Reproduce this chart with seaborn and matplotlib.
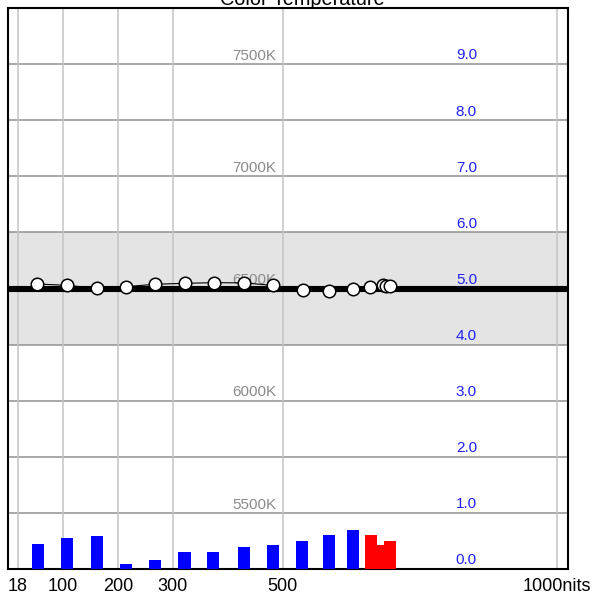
import matplotlib
matplotlib.use("Agg")
import matplotlib.pyplot as plt
import pandas as pd
import seaborn as sns

# Luminance steps (nits) and measured correlated colour temperature (K)
lum_nits = [53.5, 108, 161.5, 214.5, 268, 321.5, 374.5, 429, 482.5, 537,
            585, 628, 660, 683, 689, 696]
cct_k = [6520, 6514, 6501, 6508, 6519, 6523, 6526, 6525, 6514, 6492,
         6490, 6498, 6505, 6516, 6512, 6513]

# Colour error per step on the right-hand scale; the brightest steps in red
bar_nits = [54, 108, 162, 214.5, 268.5, 321.5, 374, 429.5, 482.5, 536,
            585, 629, 660.5, 682.5, 696]
bar_err = [0.45, 0.56, 0.59, 0.09, 0.16, 0.31, 0.31, 0.39, 0.42, 0.50,
           0.61, 0.70, 0.61, 0.43, 0.50]
bar_peak = [False] * 12 + [True] * 3

target_k = 6500
tolerance_k = 250

x_ticks = [18, 100, 200, 300, 500, 1000]
x_tick_labels = ["18", "100", "200", "300", "500", "1000nits"]
cct_labels = [5500, 6000, 6500, 7000, 7500]
err_labels = [0, 1, 2, 3, 4, 5, 6, 7, 8, 9]

sns.set_style("white")
plt.rcParams["font.family"] = ["Liberation Sans", "DejaVu Sans"]

fig = plt.figure(figsize=(5.95, 5.94), dpi=100)
ax = fig.add_axes([8 / 595, 25 / 594, 560 / 595, 561 / 594])
ax.set_xlim(0, 1020)
ax.set_ylim(5250, 7750)

# tolerance band and grid
ax.axhspan(target_k - tolerance_k, target_k + tolerance_k,
           color="#e4e4e4", zorder=0, lw=0)
for k in range(5500, 7750, 250):
    ax.axhline(k, color="#919191", lw=1.1, zorder=1)
for t in x_ticks:
    ax.axvline(t, color="#c4c4c4", lw=1.1, zorder=1)

for k in cct_labels:
    ax.text(489, k + 6, f"{k}K", ha="right", va="bottom",
            color="#8a8a8a", fontsize=11, zorder=2)

ax.axhline(target_k, color="black", lw=4.4, zorder=3)

df = pd.DataFrame({"nits": lum_nits, "cct": cct_k})
sns.lineplot(data=df, x="nits", y="cct", ax=ax, color="black", lw=0.8,
             marker="o", markersize=9, markerfacecolor="white",
             markeredgecolor="black", markeredgewidth=1.1, zorder=5)

ax.set_xticks(x_ticks, x_tick_labels)
ax.set_yticks([])
ax.set_xlabel("")
ax.set_ylabel("")
ax.tick_params(axis="x", length=0, pad=6.5, labelsize=13, colors="black")
for s in ax.spines.values():
    s.set_visible(True)
    s.set_color("black")
    s.set_linewidth(1.5)
    s.set_zorder(10)

# right-hand error scale
ax2 = ax.twinx()
ax2.set_ylim(0, 10)
ax2.set_yticks([])
for s in ax2.spines.values():
    s.set_visible(False)
colors = ["red" if p else "blue" for p in bar_peak]
ax2.bar(bar_nits, bar_err, width=22, color=colors, lw=0, zorder=2)
for v in err_labels:
    ax2.text(835, v + 0.03, f"{v:.1f}", ha="center", va="bottom",
             color="#2020f0", fontsize=11)

fig.text(302 / 595, 1 - 5 / 594, "Color Temperature", ha="center",
         va="baseline", fontsize=14.3, color="black")

fig.savefig("out.png", dpi=100)
